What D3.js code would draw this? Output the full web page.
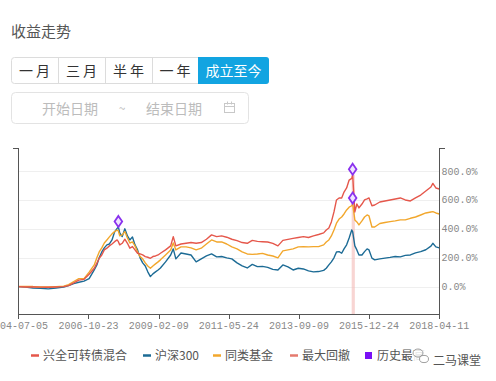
<!DOCTYPE html>
<html><head><meta charset="utf-8">
<script src="https://cdn.jsdelivr.net/npm/d3@7/dist/d3.min.js"></script>
<style>body{margin:0;background:#fff;} svg{display:block;}</style>
</head><body><svg id="c" width="496" height="381"></svg>
<script>
const dates = ["2004-07-05","2004-10-01","2005-01-01","2005-04-01","2005-07-01","2005-10-01","2006-01-01","2006-03-01","2006-05-01","2006-07-01","2006-09-01","2006-11-01","2007-01-01","2007-02-01","2007-03-01","2007-04-01","2007-05-01","2007-06-01","2007-07-01","2007-08-01","2007-09-01","2007-10-01","2007-10-16","2007-11-01","2007-12-01","2008-01-01","2008-02-01","2008-03-01","2008-04-01","2008-05-01","2008-06-01","2008-07-01","2008-08-01","2008-09-01","2008-10-01","2008-11-01","2008-12-01","2009-01-01","2009-02-01","2009-03-01","2009-05-01","2009-07-01","2009-08-01","2009-09-01","2009-11-01","2010-01-01","2010-03-01","2010-05-01","2010-07-01","2010-09-01","2010-11-01","2011-01-01","2011-03-01","2011-05-01","2011-07-01","2011-09-01","2011-11-01","2012-01-01","2012-03-01","2012-05-01","2012-07-01","2012-09-01","2012-11-01","2013-01-01","2013-03-01","2013-05-01","2013-07-01","2013-09-01","2013-11-01","2014-01-01","2014-03-01","2014-05-01","2014-07-01","2014-08-01","2014-09-01","2014-10-01","2014-11-01","2014-12-01","2015-01-01","2015-02-01","2015-03-01","2015-04-01","2015-05-01","2015-06-01","2015-06-12","2015-07-08","2015-08-01","2015-08-26","2015-10-01","2015-11-01","2015-12-01","2015-12-24","2016-01-28","2016-03-01","2016-05-01","2016-07-01","2016-09-01","2016-11-01","2017-01-01","2017-03-01","2017-05-01","2017-07-01","2017-09-01","2017-11-01","2018-01-01","2018-01-24","2018-03-01","2018-04-11"];

const fundValues = [0,-3,-2,-4,-5,-3,0,7,25,45,50,85,127,162,196,219,254,266,282,295,311,323,311,289,300,328,300,266,277,254,231,226,219,208,203,196,208,212,219,231,254,282,346,282,295,300,305,300,305,328,358,346,351,342,328,318,305,300,320,313,311,309,299,282,320,327,334,340,346,340,351,361,372,392,406,448,517,600,614,614,655,683,738,750,775,517,572,545,572,600,607,614,560,565,586,593,600,607,614,600,593,614,634,662,690,715,683,676];

const hs300Values = [0,-3,-10,-12,-16,-10,-3,7,20,30,38,55,115,150,200,240,268,289,295,323,379,403,413,372,346,400,351,323,344,289,254,199,164,143,102,69,88,102,115,129,171,219,261,192,233,226,219,171,192,212,226,206,208,199,192,164,143,129,154,138,140,133,119,115,150,136,115,127,122,109,102,104,112,127,150,171,199,240,242,231,261,289,337,392,380,282,254,219,219,242,261,254,197,185,192,197,202,208,206,216,219,233,242,255,280,300,275,268];

const peerValues = [0,0,0,-3,-3,0,3,14,35,55,55,100,150,199,240,268,302,323,344,365,381,392,385,351,358,381,337,302,309,282,240,208,192,164,143,127,143,157,171,185,219,254,302,254,275,275,268,254,266,295,323,309,309,295,275,261,240,226,223,226,230,219,212,199,247,254,261,275,277,275,277,277,289,309,323,351,392,439,468,482,503,531,550,560,575,462,448,427,455,482,496,489,413,413,437,444,450,455,462,462,473,482,496,510,517,519,510,503];

const xTickLabels = ["2004-07-05","2006-10-23","2009-02-09","2011-05-24","2013-09-09","2015-12-24","2018-04-11"];
const yTickValues = [0,200,400,600,800];
const drawdownRange = ["2015-06-12","2015-07-08"];
const seriesNames = ["兴全可转债混合","沪深300","同类基金","最大回撤","历史最高"];
const seriesColors = ["#e5574b","#1c6b95","#f2a72c","#e57a6e","#7a10f5"];
const periodButtons = ["一 月","三 月","半 年","一 年","成立至今"];

const parse = d3.timeParse("%Y-%m-%d");
const svg = d3.select("#c");
const FONT = "'Noto Sans CJK SC','Noto Sans',sans-serif";
const MONO = "'Liberation Mono','DejaVu Sans Mono',monospace";

// ---- header UI ----
svg.append("text").attr("x",11).attr("y",36.5).attr("font-family",FONT).attr("font-size",15)
  .attr("fill","#555").text("收益走势");

const btnX = [11,58,105,152,198,269];
const bg = svg.append("g");
bg.append("rect").attr("x",11.5).attr("y",57.5).attr("width",257).attr("height",26).attr("rx",3)
  .attr("fill","#fff").attr("stroke","#dcdcdc");
bg.append("path").attr("d",`M198,57 H266 Q269,57 269,60 V81 Q269,84 266,84 H198 Z`).attr("fill","#12a4e1");
[58,105,152].forEach(x=>bg.append("line").attr("x1",x+0.5).attr("x2",x+0.5).attr("y1",58).attr("y2",83).attr("stroke","#dcdcdc"));
periodButtons.forEach((t,i)=>{
  bg.append("text").attr("x",(btnX[i]+btnX[i+1])/2).attr("y",75.5).attr("text-anchor","middle")
    .attr("font-family",FONT).attr("font-size",14).attr("fill",i===4?"#fff":"#333").text(t);
});

const db = svg.append("g");
db.append("rect").attr("x",11.5).attr("y",92.5).attr("width",237).attr("height",31).attr("rx",4)
  .attr("fill","#fff").attr("stroke","#e3e3e3");
db.append("text").attr("x",42).attr("y",113.5).attr("font-family",FONT).attr("font-size",14).attr("fill","#bcbcbc").text("开始日期");
db.append("text").attr("x",122).attr("y",113).attr("text-anchor","middle").attr("font-family",FONT).attr("font-size",12).attr("fill","#bcbcbc").text("~");
db.append("text").attr("x",146).attr("y",113.5).attr("font-family",FONT).attr("font-size",14).attr("fill","#bcbcbc").text("结束日期");
db.append("rect").attr("x",224.5).attr("y",103.5).attr("width",10).attr("height",9).attr("fill","none").attr("stroke","#c8c8c8");
db.append("line").attr("x1",224.5).attr("x2",234.5).attr("y1",106.5).attr("y2",106.5).attr("stroke","#c8c8c8");
db.append("line").attr("x1",227.5).attr("x2",227.5).attr("y1",101.5).attr("y2",104.5).attr("stroke","#c8c8c8");
db.append("line").attr("x1",231.5).attr("x2",231.5).attr("y1",101.5).attr("y2",104.5).attr("stroke","#c8c8c8");

// ---- chart ----
const x = d3.scaleTime().domain([parse(xTickLabels[0]), parse(xTickLabels[xTickLabels.length-1])]).range([18,439.3]);
const y = d3.scaleLinear().domain([-190,960]).range([314,148]);
const dd = dates.map(parse);

const grid = svg.append("g");
yTickValues.forEach(v=>grid.append("line").attr("x1",18).attr("x2",439.3).attr("y1",Math.round(y(v))+0.5).attr("y2",Math.round(y(v))+0.5).attr("stroke","#efefef"));

// max drawdown band
const peakV = d3.max(fundValues);
svg.append("rect").attr("x",x(parse(drawdownRange[0]))-1).attr("y",y(peakV))
  .attr("width",x(parse(drawdownRange[1]))-x(parse(drawdownRange[0]))+1)
  .attr("height",314-y(peakV)).attr("fill","#f3b9b5").attr("opacity",0.6);

const line = vals => d3.line().x((d,i)=>x(dd[i])).y(d=>y(d))(vals);
const series = [
  {v:hs300Values,c:seriesColors[1]},
  {v:peerValues,c:seriesColors[2]},
  {v:fundValues,c:seriesColors[0]}
];
series.forEach(s=>svg.append("path").attr("d",line(s.v)).attr("fill","none").attr("stroke",s.c).attr("stroke-width",1.4).attr("stroke-linejoin","round"));

// historical high markers
series.forEach(s=>{
  const i = d3.maxIndex(s.v);
  const cx = x(dd[i]), cy = y(s.v[i]) - 5.5;
  svg.append("path").attr("d",`M${cx},${cy-5.5} L${cx+3.8},${cy} L${cx},${cy+5.5} L${cx-3.8},${cy} Z`)
    .attr("fill","#efe4ff").attr("stroke","#8a32ee").attr("stroke-width",1.8);
});

// axes
const ax = svg.append("g").attr("stroke","#555").attr("fill","none");
ax.append("line").attr("x1",18).attr("x2",439.3).attr("y1",314.5).attr("y2",314.5);
ax.append("line").attr("x1",18.5).attr("x2",18.5).attr("y1",148).attr("y2",315);
ax.append("line").attr("x1",13).attr("x2",18.5).attr("y1",148.5).attr("y2",148.5);
ax.append("line").attr("x1",439.5).attr("x2",439.5).attr("y1",148).attr("y2",315);
ax.append("line").attr("x1",439.5).attr("x2",445).attr("y1",148.5).attr("y2",148.5);
xTickLabels.forEach(t=>{
  const px = Math.round(x(parse(t)))+0.5;
  ax.append("line").attr("x1",px).attr("x2",px).attr("y1",314).attr("y2",319);
  svg.append("text").attr("x",x(parse(t))).attr("y",328.5).attr("text-anchor","middle")
    .attr("font-family",MONO).attr("font-size",10).attr("fill","#888").text(t);
});
yTickValues.forEach(v=>{
  svg.append("text").attr("x",441.5).attr("y",y(v)+3.5).attr("font-family",MONO).attr("font-size",10)
    .attr("fill","#888").text(d3.format(".1f")(v)+"%");
});

// legend
const legX = [31,143,213,290,365];
const lg = svg.append("g");
seriesNames.forEach((n,i)=>{
  if(i<4){
    lg.append("line").attr("x1",legX[i]).attr("x2",legX[i]+8).attr("y1",355.5).attr("y2",355.5)
      .attr("stroke",seriesColors[i]).attr("stroke-width",2.5);
  } else {
    lg.append("rect").attr("x",legX[i]).attr("y",352).attr("width",7).attr("height",7).attr("fill",seriesColors[i]);
  }
  lg.append("text").attr("x",legX[i]+(i<4?12:12)).attr("y",360).attr("font-family",FONT).attr("font-size",12)
    .attr("fill","#555").text(n);
});

// watermark
const wm = svg.append("g");
wm.append("circle").attr("cx",421).attr("cy",356).attr("r",9).attr("fill","#fff").attr("opacity",0.85);
wm.append("ellipse").attr("cx",418).attr("cy",353).attr("rx",5).attr("ry",4).attr("fill","none").attr("stroke","#888").attr("stroke-width",0.8);
wm.append("ellipse").attr("cx",424).attr("cy",359).attr("rx",4.5).attr("ry",3.6).attr("fill","#fff").attr("stroke","#888").attr("stroke-width",0.8);
wm.append("text").attr("x",433).attr("y",365).attr("font-family",FONT).attr("font-size",12).attr("fill","#555").text("二马课堂");
</script></body></html>
